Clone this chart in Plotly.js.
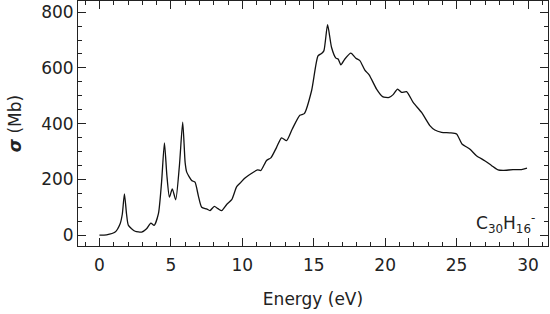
<!DOCTYPE html>
<html>
<head>
<meta charset="utf-8">
<script src="https://cdn.plot.ly/plotly-3.0.1.min.js"></script>
<style>
  html, body { margin: 0; padding: 0; background: #fff; }
  #plot { width: 550px; height: 314px; }
</style>
</head>
<body>
<div id="plot"></div>
<script>
// photoabsorption cross section of C30H16-
var energy = [0, 0.5, 1.1, 1.45, 1.6, 1.75, 1.9, 2.03, 2.5, 2.96, 3.3, 3.6, 3.83, 4.13, 4.35, 4.55,
  4.72, 4.9, 5.1, 5.34, 5.6, 5.83, 6.0, 6.11, 6.46, 6.69, 6.92, 7.16, 7.5, 7.74, 8.04, 8.3, 8.56,
  8.91, 9.26, 9.61, 9.91, 10.19, 10.66, 11.07, 11.3, 11.7, 12.0, 12.4, 12.75, 13.1, 13.5, 14.03,
  14.34, 14.85, 15.3, 15.55, 15.71, 15.97, 16.25, 16.55, 16.71, 16.9, 17.18, 17.6, 17.95, 18.23,
  18.58, 18.88, 19.4, 19.82, 20.28, 20.56, 20.87, 21.15, 21.5, 21.96, 22.55, 23.13, 23.48, 23.95,
  24.52, 25.0, 25.38, 25.92, 26.39, 26.97, 27.44, 27.9, 28.25, 28.95, 29.54, 29.93];
var sigma = [0, 1, 11, 41, 75, 148, 75, 35, 14, 11, 23, 43, 35, 77, 190, 331,
  215, 136, 166, 127, 250, 405, 260, 226, 196, 190, 142, 100, 94, 88, 103, 95, 88,
  110, 127, 174, 190, 205, 222, 234, 232, 268, 277, 315, 349, 339, 381, 430,
  436, 518, 643, 652, 661, 755, 673, 635, 632, 611, 632, 653, 635, 626,
  592, 575, 524, 497, 494, 504, 524, 512, 515, 476, 440, 393, 377, 369,
  367, 363, 327, 309, 285, 267, 250, 234, 232, 235, 235, 240];

var xTicks = [0, 5, 10, 15, 20, 25, 30];
var yTicks = [0, 200, 400, 600, 800];
var label = "C<sub>30</sub>H<sub>16</sub><sup>-</sup>";

function plot() {
  var trace1 = {
    x: energy,
    y: sigma,
    type: "scatter",
    mode: "lines",
    line: { color: "#111", width: 1.3, shape: "spline", smoothing: 0.6 },
    hoverinfo: "skip"
  };

  var axisFont = { family: "DejaVu Sans", size: 17, color: "#222" };

  var layout = {
    width: 550,
    height: 314,
    margin: { l: 78, r: 2, t: 1, b: 68 },
    paper_bgcolor: "#fff",
    plot_bgcolor: "#fff",
    showlegend: false,
    font: axisFont,
    xaxis: {
      range: [-1.5, 31.4],
      tickvals: xTicks,
      ticktext: xTicks.map(String),
      ticks: "inside",
      ticklen: 8,
      tickwidth: 1,
      tickcolor: "#222",
      ticklabelstandoff: 4,
      minor: { dtick: 1, ticks: "inside", ticklen: 4, tickcolor: "#222" },
      showline: true,
      linecolor: "#222",
      linewidth: 1,
      mirror: "ticks",
      showgrid: false,
      zeroline: false,
      tickfont: axisFont,
      title: { text: "Energy (eV)", font: axisFont, standoff: 18 }
    },
    yaxis: {
      range: [-39, 840],
      tickvals: yTicks,
      ticktext: yTicks.map(String),
      ticks: "inside",
      ticklen: 8,
      tickwidth: 1,
      tickcolor: "#222",
      minor: { dtick: 50, ticks: "inside", ticklen: 4, tickcolor: "#222" },
      showline: true,
      linecolor: "#222",
      linewidth: 1,
      mirror: "ticks",
      showgrid: false,
      zeroline: false,
      tickfont: axisFont,
      title: { text: "<b><i>σ</i></b> (Mb)", font: axisFont, standoff: 15 }
    },
    annotations: [{
      text: label,
      xref: "x",
      yref: "y",
      x: 30.6,
      y: 42,
      xanchor: "right",
      yanchor: "middle",
      showarrow: false,
      font: { family: "DejaVu Sans", size: 17, color: "#222" }
    }]
  };

  Plotly.newPlot("plot", [trace1], layout, { staticPlot: true });
}

plot();
</script>
</body>
</html>
